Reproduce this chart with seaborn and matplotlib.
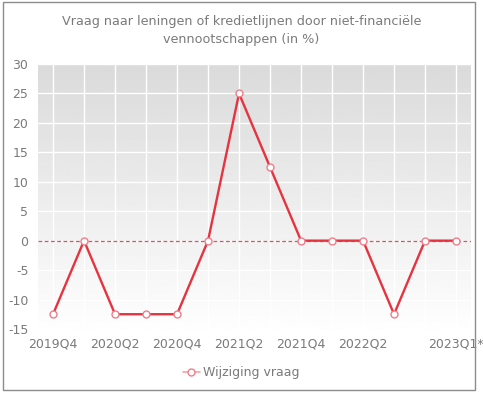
import matplotlib
matplotlib.use("Agg")
import matplotlib.pyplot as plt
import numpy as np
import pandas as pd
import seaborn as sns
from matplotlib.patches import Rectangle

quarters = ["2019Q4", "2020Q1", "2020Q2", "2020Q3", "2020Q4", "2021Q1", "2021Q2",
            "2021Q3", "2021Q4", "2022Q1", "2022Q2", "2022Q3", "2022Q4", "2023Q1*"]
demand_change = [-12.5, 0, -12.5, -12.5, -12.5, 0, 25, 12.5, 0, 0, 0, -12.5, 0, 0]
shown_labels = {"2019Q4", "2020Q2", "2020Q4", "2021Q2", "2021Q4", "2022Q2", "2023Q1*"}
y_ticks = [-15, -10, -5, 0, 5, 10, 15, 20, 25, 30]

TITLE = "Vraag naar leningen of kredietlijnen door niet-financiële\nvennootschappen (in %)"
SERIES = "Wijziging vraag"
LINE_RED = "#e5333f"
MARKER_EDGE = "#ef7d8a"
TEXT_GREY = "#7a7a7a"

sns.set_style("white")
plt.rcParams["font.family"] = ["DejaVu Sans"]
plt.rcParams["axes.unicode_minus"] = False

df = pd.DataFrame({"x": np.arange(len(quarters)), "value": demand_change})

fig = plt.figure(figsize=(4.83, 3.93), dpi=100)
ax = fig.add_axes([0.079, 0.163, 0.896, 0.674])

# grey-to-white gradient plot background
grad = np.linspace(0.855, 0.995, 256).reshape(-1, 1)
ax.imshow(grad, extent=[0, 1, 0, 1], transform=ax.transAxes, aspect="auto",
          cmap="gray", vmin=0, vmax=1, origin="upper", zorder=0)

sns.lineplot(data=df, x="x", y="value", ax=ax, color=LINE_RED, linewidth=1.7,
             marker="o", markersize=5, markerfacecolor="white",
             markeredgecolor=MARKER_EDGE, markeredgewidth=1.0, zorder=4,
             label=SERIES, legend=False)
ax.axhline(0, color="#e4505e", linestyle=(0, (3, 2)), linewidth=0.9, zorder=3)

ax.set_xlim(-0.48, len(quarters) - 0.52)
ax.set_ylim(-15, 30)
ax.set_xticks(df["x"])
ax.set_xticklabels([q if q in shown_labels else "" for q in quarters])
ax.set_yticks(y_ticks)
ax.grid(True, color="white", linewidth=1.0)
ax.set_axisbelow(False)
for gl in ax.get_xgridlines() + ax.get_ygridlines():
    gl.set_zorder(1)
ax.tick_params(length=0, labelsize=9, labelcolor=TEXT_GREY)
ax.tick_params(axis="x", pad=6)
ax.tick_params(axis="y", pad=7)
ax.set_xlabel("")
ax.set_ylabel("")
for s in ax.spines.values():
    s.set_visible(False)

fig.text(0.5, 1 - 30.5 / 393, TITLE, ha="center", va="center", fontsize=9.2,
         color=TEXT_GREY, linespacing=1.6)

handle = plt.Line2D([], [], color="#f2a3ab", linewidth=1.2, marker="o", markersize=5,
                    markerfacecolor="white", markeredgecolor=MARKER_EDGE)
fig.legend([handle], [SERIES], loc="center", bbox_to_anchor=(0.5, 0.052), frameon=False,
           fontsize=9, labelcolor=TEXT_GREY, handlelength=1.3, handletextpad=0.3)

fig.patches.append(Rectangle((3 / 483, 3 / 393), 472 / 483, 388 / 393, transform=fig.transFigure,
                             fill=False, edgecolor="#8c8c8c", linewidth=1.0))

fig.savefig("out.png", dpi=100)
